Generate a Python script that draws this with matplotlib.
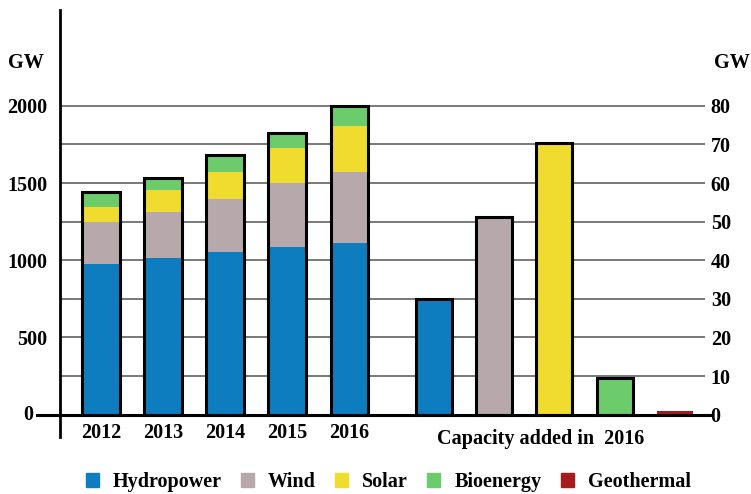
import numpy as np
import matplotlib
matplotlib.use("Agg")
import matplotlib.pyplot as plt
from matplotlib.patches import Patch

years = ['2012', '2013', '2014', '2015', '2016']
sources = ['Hydropower', 'Wind', 'Solar', 'Bioenergy', 'Geothermal']
colors = ['#0d7dc0', '#b7a8ab', '#f0dc2e', '#6ccb6a', '#a51c1c']

# cumulative capacity, GW (left axis)
hydro = [976, 1013, 1055, 1088, 1110]
wind = [272, 302, 342, 415, 464]
solar = [97, 140, 177, 223, 298]
bio = [83, 65, 97, 86, 113]
geo = [12, 12, 13, 13, 13]

# capacity added in 2016, GW (right axis)
added_2016 = [30, 51.3, 70.3, 9.6, 1.0]

plt.rcParams['font.family'] = ['Liberation Serif', 'DejaVu Serif']
plt.rcParams['font.weight'] = 'bold'
plt.rcParams['font.size'] = 14.5

fig = plt.figure(figsize=(7.51, 4.94), dpi=100)
ax = fig.add_axes([0.080, 0.115, 0.859, 0.865])
ax2 = ax.twinx()

ylo, yhi = -146, 2622
ax.set_ylim(ylo, yhi)
ax2.set_ylim(ylo / 25, yhi / 25)
ax.set_xlim(-0.66, 9.74)

# grid lines
for v in range(250, 2001, 250):
    ax.axhline(v, color='#555555', lw=1.1, zorder=1)

x = np.arange(len(years))
w = 0.6
stack = np.vstack([hydro, wind, solar, bio, geo])
bottom = np.zeros(len(years))
for vals, c in zip(stack, colors):
    ax.bar(x, vals, w, bottom=bottom, color=c, zorder=2)
    bottom += vals
ax.bar(x, bottom, w, fill=False, edgecolor='black', linewidth=2.2, zorder=3)

x2 = 5.37 + 0.97 * np.arange(len(sources))
ax2.bar(x2[:4], added_2016[:4], 0.58, color=colors[:4], edgecolor='black', linewidth=2.2, zorder=2)
ax2.bar(x2[4], added_2016[4], 0.58, color=colors[4], zorder=2)

# thick zero line
ax2.plot([-0.036, 1.008], [0, 0], color='black', lw=2.2, clip_on=False, zorder=5,
         transform=ax2.get_yaxis_transform())

for s in ['top', 'right', 'bottom']:
    ax.spines[s].set_visible(False)
    ax2.spines[s].set_visible(False)
ax2.spines['left'].set_visible(False)
ax.spines['left'].set_linewidth(2.0)

ax.set_yticks(np.arange(0, 2001, 500), [''] + [str(v) for v in range(500, 2001, 500)])
ax.tick_params(axis='y', length=0, pad=9)
ax.text(-0.05, 0, '0', ha='center', va='center', transform=ax.get_yaxis_transform())
ax2.set_yticks(np.arange(0, 81, 10))
ax2.tick_params(axis='y', length=0, pad=4)
ax.set_xticks([])

for xi, yr in zip(x, years):
    ax.text(xi, -120, yr, ha='center', va='center')
ax.text(7.08, -159, 'Capacity added in  2016', ha='center', va='center', clip_on=False)

fig.text(26 / 751, 1 - 63 / 494, 'GW', ha='center', va='center')
fig.text(732 / 751, 1 - 63 / 494, 'GW', ha='center', va='center')

handles = [Patch(color=c, label=s) for s, c in zip(sources, colors)]
fig.legend(handles=handles, loc='center', bbox_to_anchor=(0.517, 0.024), ncol=5,
           frameon=False, handlelength=0.65, handleheight=0.65,
           handletextpad=0.7, columnspacing=0.95, borderpad=0.2)

fig.savefig('out.png', dpi=100)
